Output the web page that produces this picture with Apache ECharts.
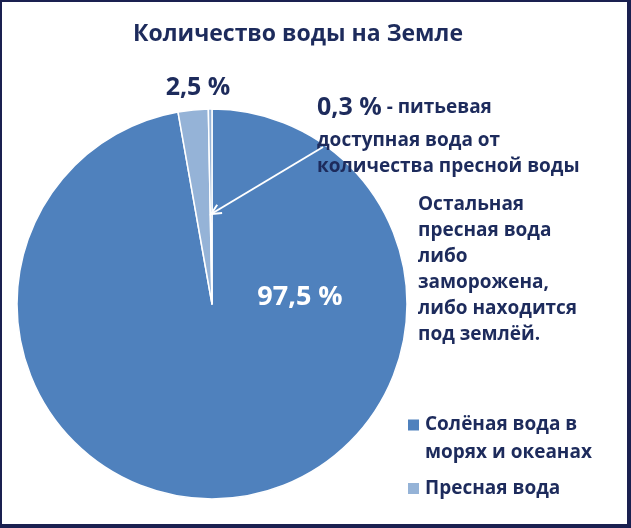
<!DOCTYPE html>
<html><head><meta charset="utf-8">
<script src="https://cdn.jsdelivr.net/npm/echarts@6/dist/echarts.min.js"></script>
<style>html,body{margin:0;padding:0;background:#fff;}#c{width:631px;height:528px;}</style>
</head><body><div id="c"></div>
<script>
const titleText = 'Количество воды на Земле';
const categories = ['Солёная вода в\nморях и океанах', 'Пресная вода', 'Питьевая вода'];
const values = [97.5, 2.5, 0.3];
const potableNote = ['доступная вода от', 'количества пресной воды'];
const restNote = ['Остальная', 'пресная вода', 'либо', 'заморожена,', 'либо находится', 'под землёй.'];

const navy = '#1d2b5c';
const dark = '#4f81bd';
const light = '#95b3d7';
const fmt = v => String(v).replace('.', ',') + ' %';
const FONT = '"Open Sans", "Noto Sans", sans-serif';

const cx = 212, cy = 304, R = 195;
const total = values.reduce((a, b) => a + b, 0);
const sliverMid = 90 - 360 * (values[0] + values[1] + values[2] / 2) / total;
const tipR = 90;
const tip = [cx + tipR * Math.cos(sliverMid * Math.PI / 180), cy - tipR * Math.sin(sliverMid * Math.PI / 180)];
const start = [323, 147];
const ang = Math.atan2(tip[1] - start[1], tip[0] - start[0]);
const hl = 11, ha = 0.45;
const h1 = [tip[0] - hl * Math.cos(ang - ha), tip[1] - hl * Math.sin(ang - ha)];
const h2 = [tip[0] - hl * Math.cos(ang + ha), tip[1] - hl * Math.sin(ang + ha)];

const chart = echarts.init(document.getElementById('c'), null, {renderer: 'canvas'});
chart.setOption({
  animation: false,
  backgroundColor: '#fff',
  legend: {
    orient: 'vertical',
    left: 401, top: 406,
    itemWidth: 13, itemHeight: 41, itemGap: 0,
    selectedMode: false,
    data: [
      {name: categories[0], icon: 'path://M0,0h13v13h-13z M0,41h0.01v-0.01h-0.01z'},
      {name: categories[1], icon: 'path://M0,0h0.01v0.01h-0.01z M0,14h13v13h-13z M0,41h0.01v-0.01h-0.01z'}
    ],
    textStyle: {color: navy, fontFamily: FONT, fontWeight: 'bold', fontSize: 19, lineHeight: 28}
  },
  series: [{
    type: 'pie',
    z: 2,
    center: [cx, cy],
    radius: [0, R],
    startAngle: 90,
    clockwise: true,
    label: {show: false},
    labelLine: {show: false},
    emphasis: {disabled: true},
    itemStyle: {borderColor: '#fff', borderWidth: 1.5},
    data: categories.map((n, i) => ({
      name: n, value: values[i],
      itemStyle: {color: i === 0 ? dark : light}
    }))
  }],
  graphic: [
    {type: 'rect', z: 20, shape: {x: 0, y: 0, width: 631, height: 2}, style: {fill: '#1a2050'}, silent: true},
    {type: 'rect', z: 20, shape: {x: 0, y: 0, width: 2, height: 528}, style: {fill: '#1a2050'}, silent: true},
    {type: 'rect', z: 20, shape: {x: 627, y: 0, width: 4, height: 528}, style: {fill: '#1a2050'}, silent: true},
    {type: 'rect', z: 20, shape: {x: 0, y: 524, width: 631, height: 4}, style: {fill: '#1a2050'}, silent: true},
    {type: 'text', z: 10, x: 298, y: 34, style: {text: titleText, fill: navy, font: 'bold 23px ' + FONT, textAlign: 'center', textVerticalAlign: 'middle'}},
    {type: 'text', z: 10, x: 198, y: 88, style: {text: fmt(values[1]), fill: navy, font: 'bold 25px ' + FONT, textAlign: 'center', textVerticalAlign: 'middle'}},
    {type: 'text', z: 10, x: 300, y: 297, style: {text: fmt(values[0]), fill: '#fff', font: 'bold 27px ' + FONT, textAlign: 'center', textVerticalAlign: 'middle'}},
    {type: 'text', z: 10, x: 317, y: 108, style: {
      text: '{b|' + fmt(values[2]) + '}{s| - питьевая}',
      rich: {b: {fill: navy, font: 'bold 25px ' + FONT}, s: {fill: navy, font: 'bold 19px ' + FONT}},
      textAlign: 'left', textVerticalAlign: 'middle'}},
    {type: 'text', z: 10, x: 317, y: 154, style: {text: potableNote.join('\n'), fill: navy, font: 'bold 19px ' + FONT, lineHeight: 26, textAlign: 'left', textVerticalAlign: 'middle'}},
    {type: 'text', z: 10, x: 418, y: 270, style: {text: restNote.join('\n'), fill: navy, font: 'bold 19px ' + FONT, lineHeight: 26, textAlign: 'left', textVerticalAlign: 'middle'}},
    {type: 'polyline', z: 11, shape: {points: [start, tip]}, style: {stroke: '#fff', lineWidth: 2, fill: null}},
    {type: 'polyline', z: 11, shape: {points: [h1, tip, h2]}, style: {stroke: '#fff', lineWidth: 2, fill: null}}
  ]
});
</script></body></html>
